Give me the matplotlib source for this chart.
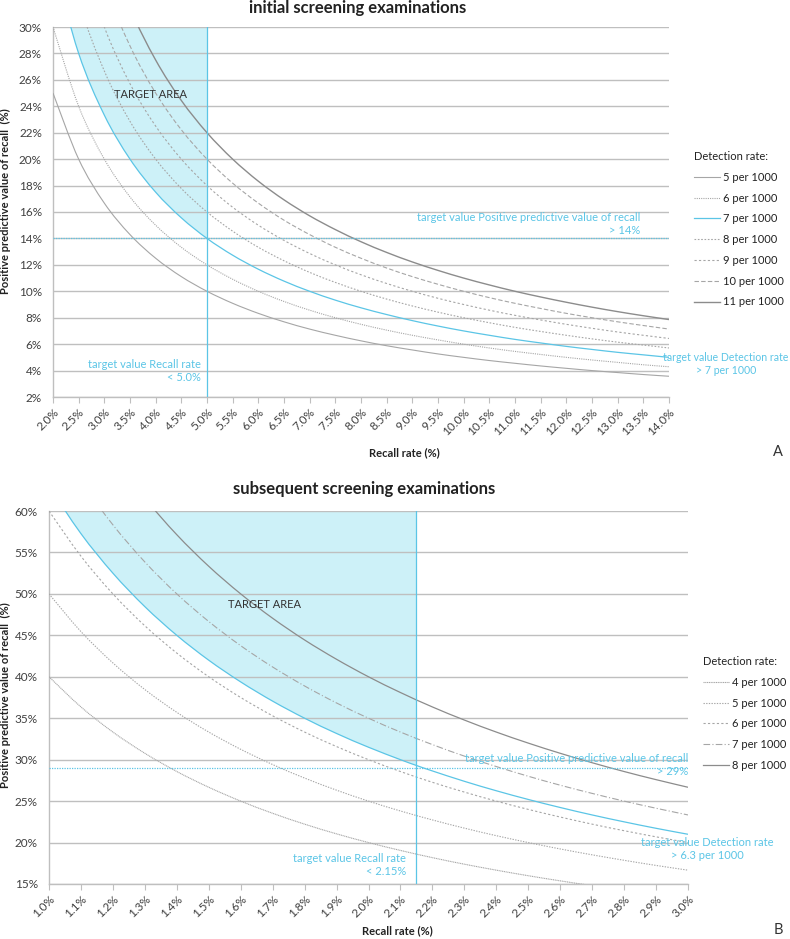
import matplotlib
matplotlib.use("Agg")
import matplotlib.pyplot as plt
from matplotlib.ticker import FuncFormatter
from matplotlib.path import Path
from matplotlib.patches import PathPatch
from matplotlib.lines import Line2D

plt.rcParams["font.family"] = ["Lato", "DejaVu Sans"]

# ---- panel A: initial screening (recall rate %, PPV %) ----
recall_a = [2.0, 2.5, 3.0, 3.5, 4.0, 4.5, 5.0, 5.5, 6.0, 6.5, 7.0, 7.5, 8.0,
            8.5, 9.0, 9.5, 10.0, 10.5, 11.0, 11.5, 12.0, 12.5, 13.0, 13.5, 14.0]
ppv_a_5 = [25.00, 20.00, 16.67, 14.29, 12.50, 11.11, 10.00, 9.09, 8.33, 7.69, 7.14, 6.67, 6.25,
           5.88, 5.56, 5.26, 5.00, 4.76, 4.55, 4.35, 4.17, 4.00, 3.85, 3.70, 3.57]
ppv_a_6 = [30.00, 24.00, 20.00, 17.14, 15.00, 13.33, 12.00, 10.91, 10.00, 9.23, 8.57, 8.00, 7.50,
           7.06, 6.67, 6.32, 6.00, 5.71, 5.45, 5.22, 5.00, 4.80, 4.62, 4.44, 4.29]
ppv_a_7 = [35.00, 28.00, 23.33, 20.00, 17.50, 15.56, 14.00, 12.73, 11.67, 10.77, 10.00, 9.33, 8.75,
           8.24, 7.78, 7.37, 7.00, 6.67, 6.36, 6.09, 5.83, 5.60, 5.38, 5.19, 5.00]
ppv_a_8 = [40.00, 32.00, 26.67, 22.86, 20.00, 17.78, 16.00, 14.55, 13.33, 12.31, 11.43, 10.67, 10.00,
           9.41, 8.89, 8.42, 8.00, 7.62, 7.27, 6.96, 6.67, 6.40, 6.15, 5.93, 5.71]
ppv_a_9 = [45.00, 36.00, 30.00, 25.71, 22.50, 20.00, 18.00, 16.36, 15.00, 13.85, 12.86, 12.00, 11.25,
           10.59, 10.00, 9.47, 9.00, 8.57, 8.18, 7.83, 7.50, 7.20, 6.92, 6.67, 6.43]
ppv_a_10 = [50.00, 40.00, 33.33, 28.57, 25.00, 22.22, 20.00, 18.18, 16.67, 15.38, 14.29, 13.33, 12.50,
            11.76, 11.11, 10.53, 10.00, 9.52, 9.09, 8.70, 8.33, 8.00, 7.69, 7.41, 7.14]
ppv_a_11 = [55.00, 44.00, 36.67, 31.43, 27.50, 24.44, 22.00, 20.00, 18.33, 16.92, 15.71, 14.67, 13.75,
            12.94, 12.22, 11.58, 11.00, 10.48, 10.00, 9.57, 9.17, 8.80, 8.46, 8.15, 7.86]
labels_a = ["5 per 1000", "6 per 1000", "7 per 1000", "8 per 1000",
            "9 per 1000", "10 per 1000", "11 per 1000"]
target_recall_a = 5.0
target_ppv_a = 14.0
yticks_a = [2, 4, 6, 8, 10, 12, 14, 16, 18, 20, 22, 24, 26, 28, 30]

# ---- panel B: subsequent screening ----
recall_b = [1.0, 1.1, 1.2, 1.3, 1.4, 1.5, 1.6, 1.7, 1.8, 1.9, 2.0,
            2.1, 2.2, 2.3, 2.4, 2.5, 2.6, 2.7, 2.8, 2.9, 3.0]
ppv_b_4 = [40.00, 36.36, 33.33, 30.77, 28.57, 26.67, 25.00, 23.53, 22.22, 21.05, 20.00,
           19.05, 18.18, 17.39, 16.67, 16.00, 15.38, 14.81, 14.29, 13.79, 13.33]
ppv_b_5 = [50.00, 45.45, 41.67, 38.46, 35.71, 33.33, 31.25, 29.41, 27.78, 26.32, 25.00,
           23.81, 22.73, 21.74, 20.83, 20.00, 19.23, 18.52, 17.86, 17.24, 16.67]
ppv_b_6 = [60.00, 54.55, 50.00, 46.15, 42.86, 40.00, 37.50, 35.29, 33.33, 31.58, 30.00,
           28.57, 27.27, 26.09, 25.00, 24.00, 23.08, 22.22, 21.43, 20.69, 20.00]
ppv_b_7 = [70.00, 63.64, 58.33, 53.85, 50.00, 46.67, 43.75, 41.18, 38.89, 36.84, 35.00,
           33.33, 31.82, 30.43, 29.17, 28.00, 26.92, 25.93, 25.00, 24.14, 23.33]
ppv_b_8 = [80.00, 72.73, 66.67, 61.54, 57.14, 53.33, 50.00, 47.06, 44.44, 42.11, 40.00,
           38.10, 36.36, 34.78, 33.33, 32.00, 30.77, 29.63, 28.57, 27.59, 26.67]
labels_b = ["4 per 1000", "5 per 1000", "6 per 1000", "7 per 1000", "8 per 1000"]
# target detection rate 6.3 per 1000 (includes the 2.15% crossing)
target_x_b = [1.0, 1.1, 1.2, 1.3, 1.4, 1.5, 1.6, 1.7, 1.8, 1.9, 2.0, 2.1, 2.15,
              2.2, 2.3, 2.4, 2.5, 2.6, 2.7, 2.8, 2.9, 3.0]
target_ppv_b = [63.00, 57.27, 52.50, 48.46, 45.00, 42.00, 39.38, 37.06, 35.00, 33.16, 31.50, 30.00,
                29.30, 28.64, 27.39, 26.25, 25.20, 24.23, 23.33, 22.50, 21.72, 21.00]
target_recall_b = 2.15
target_ppv_b_line = 29.0
yticks_b = [15, 20, 25, 30, 35, 40, 45, 50, 55, 60]

CYAN = "#5BC5E6"
FILL = "#CDF1F8"
GRAY = "#A6A6A6"
DARK = "#404040"

W, H = 790, 939
fig = plt.figure(figsize=(W / 100, H / 100), dpi=100)


def px_axes(l, t, r, b):
    return fig.add_axes([l / W, 1 - b / H, (r - l) / W, (b - t) / H])


def smooth_segments(xs, ys):
    # smoothed line through the points (like Excel's "smoothed line"), as bezier segments
    pts = list(zip(xs, ys))
    n = len(pts)
    verts, codes = [pts[0]], [Path.MOVETO]
    for i in range(n - 1):
        p0 = pts[max(i - 1, 0)]
        p1 = pts[i]
        p2 = pts[i + 1]
        p3 = pts[min(i + 2, n - 1)]
        c1 = (p1[0] + (p2[0] - p0[0]) / 6, p1[1] + (p2[1] - p0[1]) / 6)
        c2 = (p2[0] - (p3[0] - p1[0]) / 6, p2[1] - (p3[1] - p1[1]) / 6)
        verts += [c1, c2, p2]
        codes += [Path.CURVE4] * 3
    return verts, codes


def smooth_line(ax, xs, ys, **kw):
    verts, codes = smooth_segments(xs, ys)
    patch = PathPatch(Path(verts, codes), fill=False, capstyle="butt", **kw)
    ax.add_patch(patch)
    return patch


def smooth_fill(ax, xs, ys, top, **kw):
    verts, codes = smooth_segments(xs, ys)
    verts += [(xs[-1], top), (xs[0], top), verts[0]]
    codes += [Path.LINETO, Path.LINETO, Path.CLOSEPOLY]
    ax.add_patch(PathPatch(Path(verts, codes), **kw))


def style_axes(ax, xticks, xfmt, yticks, ylim):
    ax.set_xlim(xticks[0], xticks[-1])
    ax.set_ylim(*ylim)
    ax.set_xticks(xticks)
    ax.set_yticks(yticks)
    ax.xaxis.set_major_formatter(FuncFormatter(lambda v, p: xfmt % v + "%"))
    ax.yaxis.set_major_formatter(FuncFormatter(lambda v, p: "%d%%" % round(v)))
    ax.grid(axis="y", color="#BFBFBF", lw=1.0)
    for s in ["top", "right"]:
        ax.spines[s].set_visible(False)
    for s in ["left", "bottom"]:
        ax.spines[s].set_color("#BFBFBF")
        ax.spines[s].set_linewidth(1.0)
    ax.tick_params(axis="y", length=0, pad=8, labelsize=8.5, labelcolor=DARK)
    ax.tick_params(axis="x", length=4, color="#BFBFBF", labelsize=8.5, labelcolor=DARK, pad=3)
    for lab in ax.get_xticklabels():
        lab.set_rotation(45)
        lab.set_ha("right")
        lab.set_rotation_mode("anchor")
    ax.set_ylabel("Positive predictive value of recall  (%)", fontsize=8, fontweight="bold", color="#222222")


def make_legend(ax, handles, labels, x, y):
    leg = ax.legend(handles, labels, loc="upper left", bbox_to_anchor=(x / W, 1 - y / H),
                    bbox_transform=fig.transFigure, title="Detection rate:", alignment="left",
                    frameon=False, fontsize=8, title_fontsize=8, handlelength=2.3,
                    handletextpad=0.3, labelspacing=0.88, borderpad=0, borderaxespad=0)
    for t in leg.get_texts():
        t.set_color("#222222")
    leg.get_title().set_color("#222222")


def note(x, y, s, ha="right", color=CYAN, size=8):
    fig.text(x / W, 1 - y / H, s, ha=ha, va="center", fontsize=size, color=color, linespacing=1.3)


# ---------------- panel A ----------------
ax1 = px_axes(53, 27, 669, 397)
style_axes(ax1, recall_a, "%.1f", yticks_a, (2, 30))
ax1.yaxis.set_label_coords(-0.068, 0.53)

k = recall_a.index(target_recall_a) + 1
smooth_fill(ax1, recall_a[:k], ppv_a_7[:k], 30, facecolor=FILL, lw=0, zorder=1)

styles_a = [
    dict(color=GRAY, lw=0.8, ls="-"),
    dict(color=GRAY, lw=0.8, ls=(0, (1, 1))),
    dict(color=CYAN, lw=0.9, ls="-"),
    dict(color=GRAY, lw=0.8, ls=(0, (1.5, 1.5))),
    dict(color=GRAY, lw=0.8, ls=(0, (2, 2))),
    dict(color=GRAY, lw=0.8, ls=(0, (4, 2))),
    dict(color="#8C8C8C", lw=1.0, ls="-"),
]
handles_a = []
for ys, st in zip([ppv_a_5, ppv_a_6, ppv_a_7, ppv_a_8, ppv_a_9, ppv_a_10, ppv_a_11], styles_a):
    smooth_line(ax1, recall_a, ys, edgecolor=st["color"], lw=st["lw"], ls=st["ls"], zorder=3)
    handles_a.append(Line2D([], [], **st))

ax1.axvline(target_recall_a, color=CYAN, lw=0.9, zorder=3)
ax1.axhline(target_ppv_a, color=CYAN, lw=0.9, ls=(0, (1, 1)), zorder=3)

note(151, 95, "TARGET AREA", ha="center", color="#333333")
note(640, 224, "target value Positive predictive value of recall\n> 14%")
note(201, 371, "target value Recall rate\n< 5.0%")
note(726, 364, "target value Detection rate\n> 7 per 1000", ha="center", size=7.6)

fig.text(358 / W, 1 - 8 / H, "initial screening examinations", ha="center", va="center",
         fontsize=12, fontweight="bold", color="#222222")
fig.text(404 / W, 1 - 453 / H, "Recall rate (%)", ha="center", va="center",
         fontsize=8, fontweight="bold", color="#222222")
fig.text(778 / W, 1 - 452 / H, "A", ha="center", va="center", fontsize=10.5, color="#333333")
make_legend(ax1, handles_a, labels_a, 694, 151)

# ---------------- panel B ----------------
ax2 = px_axes(49, 511, 688, 884)
style_axes(ax2, recall_b, "%.1f", yticks_b, (15, 60))
ax2.yaxis.set_label_coords(-0.06, 0.507)

k = target_x_b.index(target_recall_b) + 1
smooth_fill(ax2, target_x_b[:k], target_ppv_b[:k], 60, facecolor=FILL, lw=0, zorder=1)

styles_b = [
    dict(color=GRAY, lw=0.8, ls=(0, (1, 0.6))),
    dict(color=GRAY, lw=0.8, ls=(0, (1.2, 1.2))),
    dict(color=GRAY, lw=0.8, ls=(0, (2, 2))),
    dict(color=GRAY, lw=0.8, ls=(0, (6, 2, 1, 2))),
    dict(color="#8C8C8C", lw=0.9, ls="-"),
]
handles_b = []
for ys, st in zip([ppv_b_4, ppv_b_5, ppv_b_6, ppv_b_7, ppv_b_8], styles_b):
    smooth_line(ax2, recall_b, ys, edgecolor=st["color"], lw=st["lw"], ls=st["ls"], zorder=3)
    handles_b.append(Line2D([], [], **st))

smooth_line(ax2, target_x_b, target_ppv_b, edgecolor=CYAN, lw=0.9, zorder=3)
ax2.axvline(target_recall_b, color=CYAN, lw=0.9, zorder=3)
ax2.axhline(target_ppv_b_line, color=CYAN, lw=0.9, ls=(0, (1, 1)), zorder=3)

note(264, 605, "TARGET AREA", ha="center", color="#333333")
note(688, 765, "target value Positive predictive value of recall\n> 29%")
note(406, 865, "target value Recall rate\n< 2.15%")
note(707, 849, "target value Detection rate\n> 6.3 per 1000", ha="center")

fig.text(364 / W, 1 - 489 / H, "subsequent screening examinations", ha="center", va="center",
         fontsize=12, fontweight="bold", color="#222222")
fig.text(397 / W, 1 - 931 / H, "Recall rate (%)", ha="center", va="center",
         fontsize=8, fontweight="bold", color="#222222")
fig.text(778 / W, 1 - 930 / H, "B", ha="center", va="center", fontsize=10.5, color="#333333")
make_legend(ax2, handles_b, labels_b, 703, 656)

fig.savefig("out.png", dpi=100)
